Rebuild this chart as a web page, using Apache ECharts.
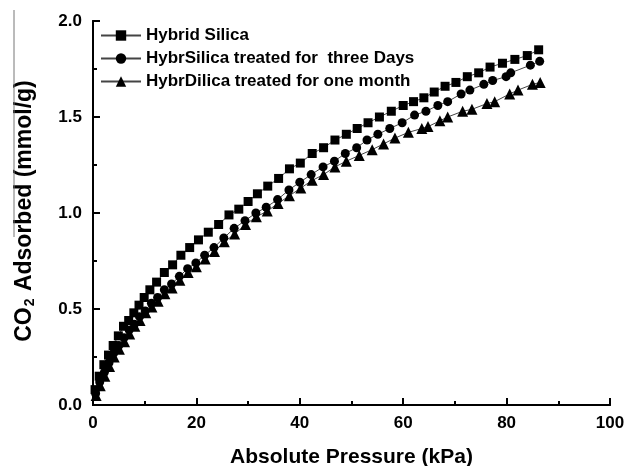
<!DOCTYPE html>
<html>
<head>
<meta charset="utf-8">
<script src="https://cdn.jsdelivr.net/npm/echarts@6/dist/echarts.min.js"></script>
<style>
  html, body { margin: 0; padding: 0; background: #fff; }
  #chart { width: 627px; height: 466px; }
</style>
</head>
<body>
<div id="chart"></div>
<script>
// pressure (kPa) / adsorbed (mmol/g)
const hybridX = [0.4, 1.2, 2.1, 3.0, 3.9, 4.9, 5.9, 6.9, 7.9, 8.9, 9.9, 11.0, 12.3, 13.8, 15.4, 17.0, 18.7, 20.4, 22.3, 24.3, 26.3, 28.2, 30.0, 31.8, 33.8, 35.9, 38.0, 40.1, 42.4, 44.6, 46.8, 49.0, 51.1, 53.2, 55.4, 57.7, 60.0, 62.0, 64.0, 66.0, 68.1, 70.2, 72.4, 74.6, 76.8, 79.2, 81.6, 84.0, 86.2];
const hybridY = [0.08, 0.15, 0.21, 0.26, 0.31, 0.36, 0.41, 0.44, 0.48, 0.52, 0.56, 0.60, 0.64, 0.69, 0.73, 0.78, 0.82, 0.86, 0.90, 0.94, 0.99, 1.02, 1.06, 1.10, 1.14, 1.18, 1.23, 1.26, 1.31, 1.34, 1.38, 1.41, 1.44, 1.47, 1.50, 1.53, 1.56, 1.58, 1.60, 1.63, 1.66, 1.68, 1.71, 1.73, 1.76, 1.78, 1.80, 1.82, 1.85];

const threeDaysX = [0.5, 1.3, 2.2, 3.1, 4.0, 5.0, 6.0, 7.0, 8.0, 9.0, 10.1, 11.3, 12.5, 13.8, 15.2, 16.7, 18.3, 19.9, 21.6, 23.4, 25.3, 27.3, 29.4, 31.5, 33.5, 35.7, 37.9, 40.0, 42.2, 44.5, 46.7, 48.8, 51.0, 53.0, 55.1, 57.4, 59.8, 62.2, 64.4, 66.7, 68.6, 71.2, 72.9, 75.6, 77.3, 79.9, 80.8, 84.6, 86.4];
const threeDaysY = [0.06, 0.12, 0.17, 0.22, 0.27, 0.31, 0.35, 0.39, 0.42, 0.46, 0.49, 0.53, 0.56, 0.60, 0.63, 0.67, 0.71, 0.74, 0.78, 0.82, 0.87, 0.92, 0.96, 1.00, 1.03, 1.07, 1.12, 1.16, 1.20, 1.24, 1.27, 1.31, 1.34, 1.38, 1.41, 1.44, 1.47, 1.51, 1.53, 1.56, 1.58, 1.62, 1.64, 1.67, 1.69, 1.71, 1.73, 1.77, 1.79];

const oneMonthX = [0.6, 1.4, 2.3, 3.2, 4.1, 5.1, 6.1, 7.1, 8.1, 9.1, 10.2, 11.4, 12.6, 13.9, 15.3, 16.8, 18.4, 20.0, 21.7, 23.5, 25.4, 27.4, 29.5, 31.6, 33.7, 35.8, 38.0, 40.2, 42.4, 44.6, 46.8, 49.0, 51.5, 54.0, 56.2, 58.4, 61.0, 63.6, 64.8, 67.1, 68.6, 71.5, 73.3, 76.2, 77.7, 80.6, 82.2, 85.0, 86.5];
const oneMonthY = [0.05, 0.10, 0.15, 0.20, 0.25, 0.29, 0.33, 0.37, 0.41, 0.44, 0.48, 0.51, 0.54, 0.58, 0.61, 0.65, 0.69, 0.72, 0.76, 0.80, 0.85, 0.89, 0.94, 0.98, 1.01, 1.05, 1.09, 1.13, 1.17, 1.20, 1.24, 1.27, 1.30, 1.33, 1.36, 1.39, 1.42, 1.44, 1.45, 1.48, 1.50, 1.53, 1.54, 1.57, 1.58, 1.62, 1.64, 1.67, 1.68];

const seriesNames = ['Hybrid Silica', 'HybrSilica treated for  three Days', 'HybrDilica treated for one month'];

const FONT = 'Liberation Sans, Arial, sans-serif';
const axisLine = { show: true, lineStyle: { color: '#000', width: 2 } };

function pairs(xs, ys) {
  return xs.map((x, i) => [x, ys[i]]);
}

function lineSeries(name, xs, ys, symbol, size) {
  return {
    name: name,
    type: 'line',
    data: pairs(xs, ys),
    symbol: symbol,
    symbolSize: size,
    showAllSymbol: true,
    itemStyle: { color: '#000' },
    lineStyle: { color: '#444', width: 1 },
    emphasis: { disabled: true }
  };
}

let chart = echarts.init(document.getElementById('chart'));
chart.setOption({
  animation: false,
  backgroundColor: '#fff',
  textStyle: { fontFamily: FONT },
  grid: { left: 93, right: 17, top: 21, bottom: 61, outerBoundsMode: 'none' },
  legend: {
    orient: 'vertical',
    left: 95,
    top: 22,
    itemWidth: 40,
    itemHeight: 13,
    itemGap: 6,
    itemTextGap: 6,
    textStyle: { fontFamily: FONT, fontSize: 17, fontWeight: 'bold', color: '#000' },
    data: seriesNames
  },
  xAxis: [
    {
      type: 'value',
      min: 0, max: 100, interval: 20,
      name: 'Absolute Pressure (kPa)',
      nameLocation: 'middle',
      nameGap: 42,
      nameTextStyle: { fontSize: 21, fontWeight: 'bold', color: '#000', fontFamily: FONT },
      axisLine: axisLine,
      axisTick: { inside: true, length: 7, lineStyle: { color: '#000', width: 2 } },
      minorTick: { show: true, splitNumber: 2, length: 4, lineStyle: { color: '#000', width: 2 } },
      axisLabel: { fontSize: 17, fontWeight: 'bold', color: '#000', margin: 10, fontFamily: FONT },
      splitLine: { show: false }
    },
    {
      type: 'value', position: 'top', min: 0, max: 100,
      axisLine: axisLine, axisTick: { show: false }, axisLabel: { show: false }, splitLine: { show: false }
    }
  ],
  yAxis: [
    {
      type: 'value',
      min: 0, max: 2, interval: 0.5,
      axisLine: axisLine,
      axisTick: { inside: true, length: 7, lineStyle: { color: '#000', width: 2 } },
      minorTick: { show: true, splitNumber: 2, length: 4, lineStyle: { color: '#000', width: 2 } },
      axisLabel: {
        fontSize: 17, fontWeight: 'bold', color: '#000', margin: 11, fontFamily: FONT,
        formatter: v => v.toFixed(1)
      },
      splitLine: { show: false }
    },
    {
      type: 'value', position: 'right', min: 0, max: 2,
      axisLine: axisLine, axisTick: { show: false }, axisLabel: { show: false }, splitLine: { show: false }
    }
  ],
  graphic: [
    {
      type: 'text',
      x: 25, y: 211,
      rotation: Math.PI / 2,
      style: {
        text: 'CO{sub|2} Adsorbed (mmol/g)',
        fontFamily: FONT,
        fontSize: 23,
        fontWeight: 'bold',
        fill: '#000',
        align: 'center',
        verticalAlign: 'middle',
        rich: {
          sub: { fontSize: 14, fontWeight: 'bold', fontFamily: FONT, fill: '#000', padding: [11, 1, 0, 1] }
        }
      }
    },
    {
      type: 'line',
      shape: { x1: 14, y1: 10, x2: 14, y2: 237 },
      style: { stroke: '#777', lineWidth: 1 }
    }
  ],
  series: [
    lineSeries(seriesNames[0], hybridX, hybridY, 'rect', 9),
    lineSeries(seriesNames[1], threeDaysX, threeDaysY, 'circle', 9),
    lineSeries(seriesNames[2], oneMonthX, oneMonthY, 'triangle', 11)
  ]
});
</script>
</body>
</html>
